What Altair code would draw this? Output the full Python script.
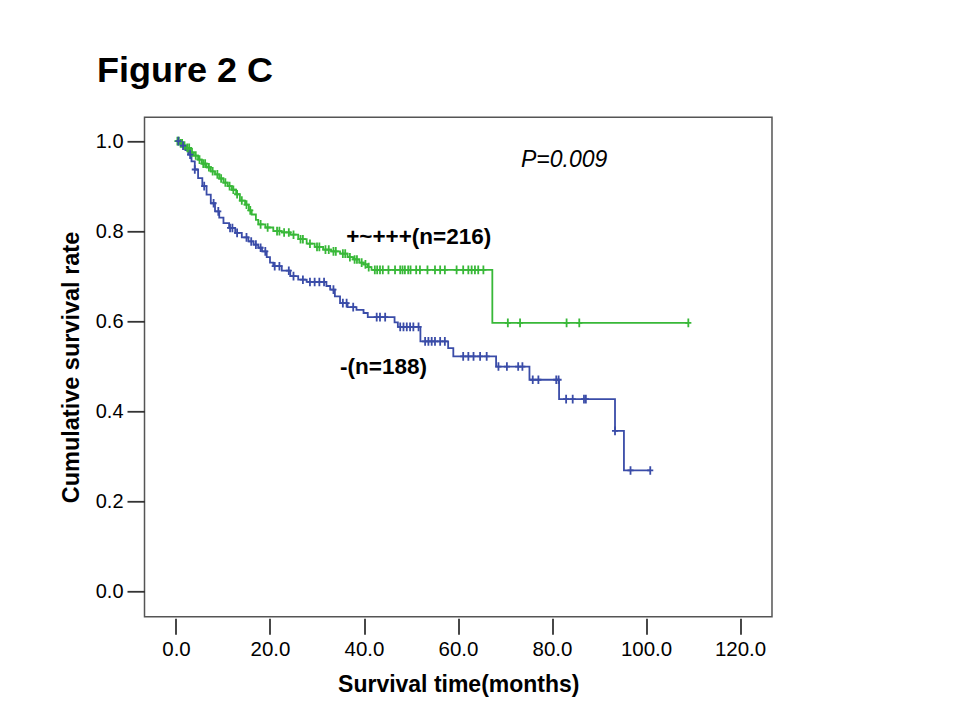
import altair as alt
import pandas as pd

# ---------------- data ----------------
GROUPS = ["+~+++(n=216)", "-(n=188)"]
COLORS = ["#38b838", "#3a4ca8"]

# Green curve: +~+++ (n=216)  (step points: time in months, cumulative survival)
GREEN_T = [0.0, 0.8, 1.5, 2.2, 3.0, 3.8, 4.7, 5.5, 6.5, 7.4, 8.3, 9.2, 10.1, 11.0,
           11.9, 12.8, 13.6, 14.7, 15.5, 16.1, 17.0, 17.5, 19.0, 20.7, 22.5, 24.3,
           26.0, 27.8, 29.5, 31.3, 33.0, 34.9, 36.5, 37.7, 39.0, 39.9, 40.8, 41.6,
           67.3, 109.0]
GREEN_S = [1.0, 0.995, 0.99, 0.985, 0.975, 0.968, 0.959, 0.95, 0.942, 0.933, 0.926,
           0.917, 0.908, 0.90, 0.892, 0.882, 0.868, 0.859, 0.846, 0.837, 0.825, 0.815,
           0.808, 0.80, 0.797, 0.792, 0.782, 0.772, 0.765, 0.759, 0.755, 0.750, 0.742,
           0.737, 0.730, 0.726, 0.720, 0.714, 0.596, 0.596]
GREEN_CENSOR = [0.3, 0.6, 1.0, 1.3, 1.8, 2.4, 2.8, 3.4, 4.2, 5.0, 5.8, 6.2, 7.0, 7.8,
                8.8, 9.6, 10.5, 11.4, 12.2, 13.0, 14.0, 15.0, 15.8, 18.0, 19.5, 21.5,
                22.0, 23.0, 24.0, 25.0, 26.5, 27.0, 28.5, 30.0, 30.5, 31.8, 32.5, 33.5,
                34.0, 35.5, 36.0, 37.0, 38.0, 38.5, 39.5, 40.3, 41.0,
                42.3, 42.8, 43.4, 44.0, 45.2, 46.6, 47.7, 48.2, 48.7, 49.4, 49.9, 51.1,
                51.9, 53.5, 55.1, 56.2, 57.2, 59.7, 61.1, 62.2, 62.9, 63.6, 64.3, 65.4,
                70.6, 73.2, 83.1, 85.8, 109.0]

# Blue curve: - (n=188)
BLUE_T = [0.0, 1.0, 2.0, 2.6, 3.3, 4.0, 4.7, 5.6, 6.5, 7.4, 8.3, 9.2, 10.1, 11.3,
          12.6, 14.0, 15.4, 16.5, 17.5, 18.3, 19.3, 20.0, 20.7, 22.5, 24.3, 26.0,
          27.8, 32.0, 32.8, 33.8, 34.9, 36.5, 38.4, 39.9, 40.8, 46.5, 47.2, 52.0,
          57.9, 59.0, 68.1, 75.2, 81.5, 93.4, 95.3, 101.0]
BLUE_S = [1.0, 0.99, 0.98, 0.970, 0.955, 0.937, 0.918, 0.900, 0.881, 0.862, 0.844,
          0.830, 0.818, 0.807, 0.796, 0.786, 0.777, 0.770, 0.763, 0.755, 0.742, 0.730,
          0.722, 0.712, 0.700, 0.692, 0.687, 0.678, 0.670, 0.655, 0.640, 0.631, 0.625,
          0.618, 0.609, 0.597, 0.587, 0.555, 0.540, 0.5215, 0.499, 0.4696, 0.4266,
          0.356, 0.268, 0.268]
BLUE_CENSOR = [0.5, 1.5, 3.0, 4.0, 6.0, 8.0, 9.0, 11.5, 12.0, 13.0, 15.0, 16.0, 17.0,
               18.0, 19.0, 21.0, 22.0, 24.0, 25.0, 27.0, 28.5, 29.5, 30.5, 31.5, 33.5,
               35.5, 36.3, 37.7, 42.7, 43.4, 44.5, 47.7, 48.4, 49.1, 49.8, 50.5, 51.6,
               53.0, 53.7, 54.4, 55.1, 56.2, 57.2, 61.1, 62.2, 63.3, 64.7, 66.1,
               68.6, 70.4, 72.8, 73.7, 75.9, 77.1, 80.9, 81.4, 83.0, 84.4, 86.8, 87.2,
               93.4, 96.7, 100.9]

# annotations
ANNOT_TEXT = ["+~+++(n=216)", "-(n=188)", "P=0.009"]
ANNOT_T = [36.2, 34.9, 73.4]
ANNOT_S = [0.788, 0.4986, 0.959]

X_TICKS = [0, 20, 40, 60, 80, 100, 120]
Y_TICKS = [0.0, 0.2, 0.4, 0.6, 0.8, 1.0]

FONT = "Liberation Sans"


def surv_at(ts, ss, t):
    val = ss[0]
    for ti, si in zip(ts, ss):
        if ti <= t:
            val = si
    return val


curve_rows = []
for g, ts, ss in [(GROUPS[0], GREEN_T, GREEN_S), (GROUPS[1], BLUE_T, BLUE_S)]:
    for t, s in zip(ts, ss):
        curve_rows.append({"group": g, "time": t, "surv": s})
curves = pd.DataFrame(curve_rows)

cens_rows = []
for g, cs, ts, ss in [(GROUPS[0], GREEN_CENSOR, GREEN_T, GREEN_S),
                      (GROUPS[1], BLUE_CENSOR, BLUE_T, BLUE_S)]:
    for c in cs:
        cens_rows.append({"group": g, "time": c, "surv": surv_at(ts, ss, c)})
censors = pd.DataFrame(cens_rows)

annots = pd.DataFrame({"text": ANNOT_TEXT, "time": ANNOT_T, "surv": ANNOT_S})

x_scale = alt.Scale(domain=[-6.7, 126.8], nice=False, zero=False)
y_scale = alt.Scale(domain=[-0.057, 1.053], nice=False, zero=False)
color_scale = alt.Scale(domain=GROUPS, range=COLORS)

x_axis = alt.Axis(values=X_TICKS, format=".1f", tickSize=16, tickWidth=1.8,
                  tickColor="#333", domain=False, grid=False, offset=1.5,
                  labelFontSize=20.5, labelFont=FONT, labelColor="black",
                  labelPadding=5, title="Survival time(months)", titleFont=FONT,
                  titleFontSize=23, titleFontWeight="bold", titleColor="black",
                  titlePadding=14)
y_axis = alt.Axis(values=Y_TICKS, format=".1f", tickSize=17.5, tickWidth=1.8,
                  tickColor="#333", domain=False, grid=False,
                  labelFontSize=20, labelFont=FONT, labelColor="black",
                  labelPadding=4, title="Cumulative survival rate", titleFont=FONT,
                  titleFontSize=23.5, titleFontWeight="bold", titleColor="black",
                  titlePadding=12)

lines = alt.Chart(curves).mark_line(interpolate="step-after", strokeWidth=1.8).encode(
    x=alt.X("time:Q", scale=x_scale, axis=x_axis),
    y=alt.Y("surv:Q", scale=y_scale, axis=y_axis),
    color=alt.Color("group:N", scale=color_scale, legend=None),
    detail="group:N",
)

cross = alt.Chart(censors).mark_point(
    shape="M0,-1L0,1M-0.7,0L0.7,0", size=75, filled=False, strokeWidth=1.8, opacity=1
).encode(
    x=alt.X("time:Q", scale=x_scale),
    y=alt.Y("surv:Q", scale=y_scale),
    color=alt.Color("group:N", scale=color_scale, legend=None),
)

lab_bold = alt.Chart(annots.iloc[:2]).mark_text(
    align="left", baseline="middle", font=FONT, fontSize=22.5, fontWeight="bold",
    color="black"
).encode(x=alt.X("time:Q", scale=x_scale), y=alt.Y("surv:Q", scale=y_scale),
         text="text:N")

lab_p = alt.Chart(annots.iloc[2:]).mark_text(
    align="left", baseline="middle", font=FONT, fontSize=23, fontStyle="italic",
    color="black"
).encode(x=alt.X("time:Q", scale=x_scale), y=alt.Y("surv:Q", scale=y_scale),
         text="text:N")

chart = alt.layer(lines, cross, lab_bold, lab_p).properties(
    width=627.5,
    height=499.4,
    autosize=alt.AutoSizeParams(type="none"),
    padding={"left": 136.5, "top": 109.3, "right": 170, "bottom": 95},
    title=alt.TitleParams(text="Figure 2 C", anchor="start", frame="group",
                          font=FONT, fontSize=36, fontWeight="bold", color="black",
                          baseline="alphabetic", dx=-47.5, dy=34, offset=33),
    background="white",
).configure_view(stroke="#555", strokeWidth=1.5)

chart.save("out.html", embed_options={"renderer": "svg", "actions": False})
